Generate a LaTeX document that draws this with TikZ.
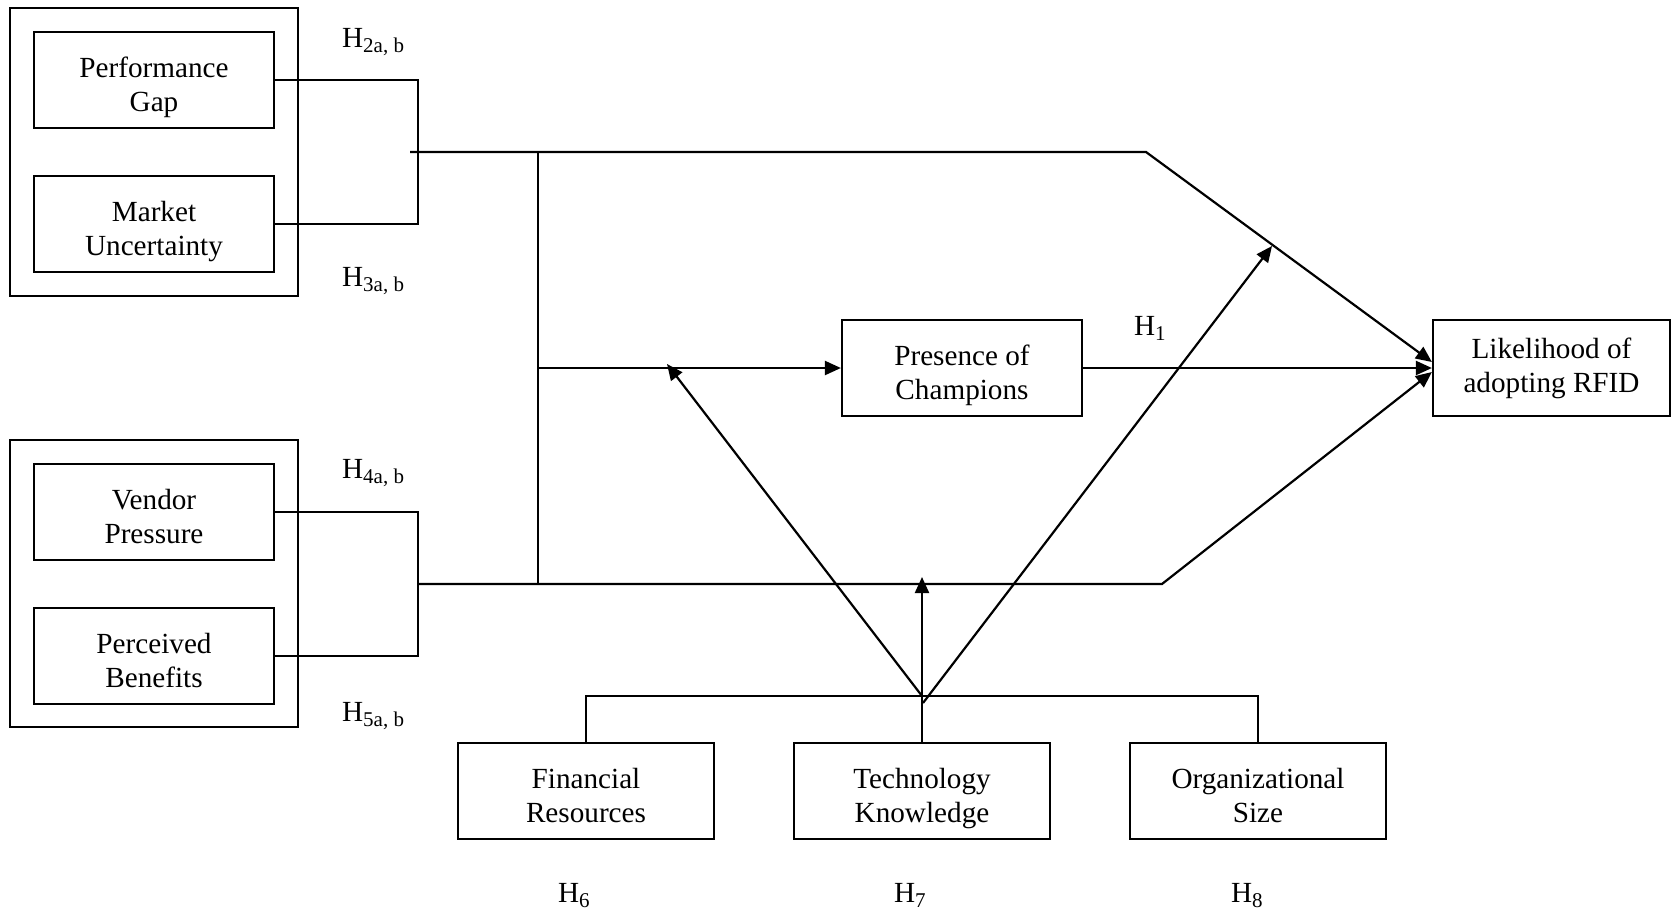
\documentclass[tikz,border=0pt]{standalone}
\usepackage{fontspec}
\setmainfont{Liberation Serif}
\usetikzlibrary{arrows.meta}
\newcommand\hlab[1]{H\raisebox{-2.5pt}{\fontsize{10.5}{10.5}\selectfont #1}}
% two-line box text with fixed height/depth so that all boxes align alike
\newcommand\twoline[3][19.1pt]{\begin{tabular}{@{}c@{}}\rule{0pt}{#1}#2\\#3\end{tabular}}
\begin{document}
\begin{tikzpicture}[x=0.5pt,y=-0.5pt, line width=1.1pt,
  box/.style={draw, line width=1.1pt, inner sep=0pt,
    font=\fontsize{14.6}{17}\selectfont, minimum height=48pt},
  frame/.style={draw, line width=1.1pt, inner sep=0pt, minimum width=144pt, minimum height=144pt},
  lab/.style={font=\fontsize{14.6}{16.5}\selectfont, inner sep=0pt, anchor=base west},
  arr/.style={-{Triangle[length=8pt,width=7pt]}}]
\useasboundingbox (0,0) rectangle (1671,911);

% frames
\node[frame] (f1) at (154,152) {};
\node[frame, minimum height=143.5pt] (f2) at (154,583.5) {};

% boxes
\node[box, minimum width=120pt] (pg) at (154,80) {\twoline{Performance}{Gap}};
\node[box, minimum width=120pt] (mu) at (154,224) {\twoline{Market}{Uncertainty}};
\node[box, minimum width=120pt] (vp) at (154,512) {\twoline{Vendor}{Pressure}};
\node[box, minimum width=120pt] (pb) at (154,656) {\twoline{Perceived}{Benefits}};
\node[box, minimum width=120pt] (poc) at (962,368) {\twoline{Presence of}{Champions}};
\node[box, minimum width=118.5pt] (lik) at (1551.5,368) {\twoline[12.7pt]{Likelihood of}{adopting RFID}};
\node[box, minimum width=128pt] (fr) at (586,791) {\twoline{Financial}{Resources}};
\node[box, minimum width=128pt] (tk) at (922,791) {\twoline{Technology}{Knowledge}};
\node[box, minimum width=128pt] (os) at (1258,791) {\twoline{Organizational}{Size}};

% labels
\node[lab] (h2) at (341,47) {\hlab{2a, b}};
\node[lab] (h3) at (341,286) {\hlab{3a, b}};
\node[lab] (h4) at (341,478) {\hlab{4a, b}};
\node[lab] (h5) at (341,721) {\hlab{5a, b}};
\node[lab] (h1) at (1133,335) {\hlab{1}};
\node[lab] (h6) at (557,902) {\hlab{6}};
\node[lab] (h7) at (893,902) {\hlab{7}};
\node[lab] (h8) at (1230,902) {\hlab{8}};

% coordinates
\coordinate (ja) at (418,152);
\coordinate (t0) at (410,152);
\coordinate (t1) at (1146,152);
\coordinate (v0) at (538,152);
\coordinate (v1) at (538,584);
\coordinate (vm) at (538,368);
\coordinate (jb) at (418,584);
\coordinate (b1) at (1162,584);
\coordinate (jt) at (922,696);
\coordinate (ta) at (922,577);
\coordinate (da) at (667,364);
\coordinate (jr) at (923,703);
\coordinate (db) at (1272,246);

% brackets
\draw (pg.east) -| (ja) |- (mu.east);
\draw (vp.east) -| (jb) |- (pb.east);

% main lines
\draw[arr] (t0) -- (t1) -- ([yshift=3pt]lik.west);
\draw (v0) -- (v1);
\draw[arr] (vm) -- (poc.west);
\draw[arr] (poc.east) -- (lik.west);
\draw[arr] (jb) -- (b1) -- ([yshift=-2pt]lik.west);

% moderators
\draw (fr.north) |- (jt) -| (os.north);
\draw[arr] (tk.north) -- (ta);
\draw[arr] (jt) -- (da);
\draw[arr] (jr) -- (db);
\end{tikzpicture}
\end{document}
